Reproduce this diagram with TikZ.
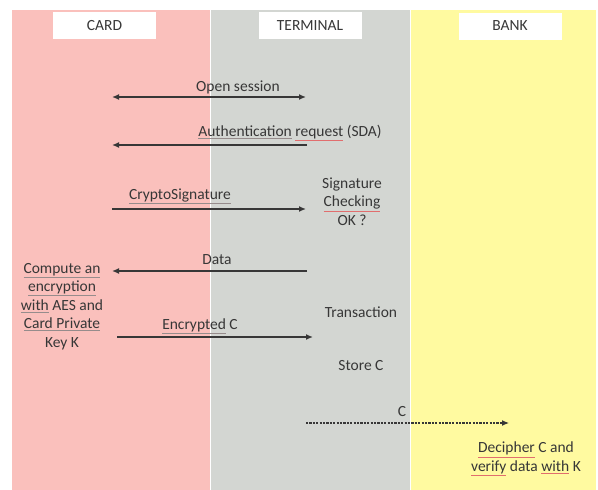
\documentclass[tikz,border=0pt]{standalone}
\usepackage{fontspec}
\setmainfont{Carlito}
\usetikzlibrary{arrows.meta}
\definecolor{cardbg}{RGB}{250,192,188}
\definecolor{termbg}{RGB}{211,214,210}
\definecolor{bankbg}{RGB}{255,250,160}
\definecolor{txt}{RGB}{55,55,55}
\definecolor{arr}{RGB}{55,55,55}
\definecolor{ulg}{RGB}{150,140,140}
\definecolor{ulr}{RGB}{225,110,110}
\newcommand\ulx[2]{\leavevmode\rlap{\color{#1}\underline{\phantom{#2}}}#2}
\tikzset{
  lane/.style={draw=none},
  hdr/.style={fill=white, minimum width=103pt, minimum height=27pt, inner sep=0pt, font=\fontsize{15.5}{17}\selectfont, text=txt},
  lbl/.style={font=\fontsize{15.5}{17}\selectfont, text=txt, inner sep=0pt},
  blk/.style={font=\fontsize{15.5}{18.5}\selectfont, text=txt, align=center, inner sep=0pt},
  msg/.style={draw=arr, line width=1.3pt, -{Latex[length=7pt,width=6pt]}},
  msgb/.style={draw=arr, line width=1.3pt, {Latex[length=7pt,width=6pt]}-{Latex[length=7pt,width=6pt]}},
  dmsg/.style={draw=arr, line width=1.1pt, dash pattern=on 2.2pt off 1.2pt, -{Latex[length=7pt,width=6pt]}}
}
\begin{document}
\begin{tikzpicture}[x=1pt,y=-1pt]
\useasboundingbox (0,0) rectangle (598,490);
\fill[white] (0,0) rectangle (598,490);
% lanes
\fill[cardbg] (12,10) rectangle (209.5,490);
\fill[termbg] (211,10) rectangle (409.5,490);
\fill[bankbg] (411,10) rectangle (596,490);
% headers
\node[hdr] (card) at (104.5,25.5) {CARD};
\node[hdr] (term) at (310,25.5) {TERMINAL};
\node[hdr] (bank) at (510,26) {BANK};
% coordinates
\coordinate (c1) at (112,97);  \coordinate (t1) at (306,97);
\coordinate (c2) at (112,145); \coordinate (t2) at (307,145);
\coordinate (c3) at (112,209); \coordinate (t3) at (306,209);
\coordinate (c4) at (112,271); \coordinate (t4) at (307,271);
\coordinate (c5) at (117,337); \coordinate (t5) at (313,337);
\coordinate (t6) at (306,423); \coordinate (b6) at (509,423);
% messages
\draw[msgb] (c1) -- (t1);
\node[lbl] (l1) at (238,87) {Open session};
\draw[msg] (t2) -- (c2);
\node[lbl] (l2) at (290,133) {\ulx{ulg}{Authentication} \ulx{ulr}{request} (SDA)};
\draw[msg] (c3) -- (t3);
\node[lbl] (l3) at (180,196) {\ulx{ulg}{CryptoSignature}};
\node[blk] (sig) at (352,201.5) {Signature\\\ulx{ulr}{Checking}\\OK ?};
\draw[msg] (t4) -- (c4);
\node[lbl] (l4) at (217,260) {Data};
\node[blk] (comp) at (62,306.5) {\ulx{ulg}{Compute an}\\\ulx{ulg}{encryption}\\\ulx{ulg}{with} AES and\\\ulx{ulg}{Card Private}\\Key K};
\draw[msg] (c5) -- (t5);
\node[lbl] (l5) at (200,326) {\ulx{ulg}{Encrypted} C};
\node[lbl] (trans) at (361,312) {Transaction};
\node[lbl] (store) at (361,366) {Store C};
\draw[dmsg] (t6) -- (b6);
\node[lbl] (l6) at (402,412) {C};
\node[blk] (dec) at (526,459) {\ulx{ulr}{Decipher} C and\\\ulx{ulr}{verify} data \ulx{ulr}{with} K};
\end{tikzpicture}
\end{document}
